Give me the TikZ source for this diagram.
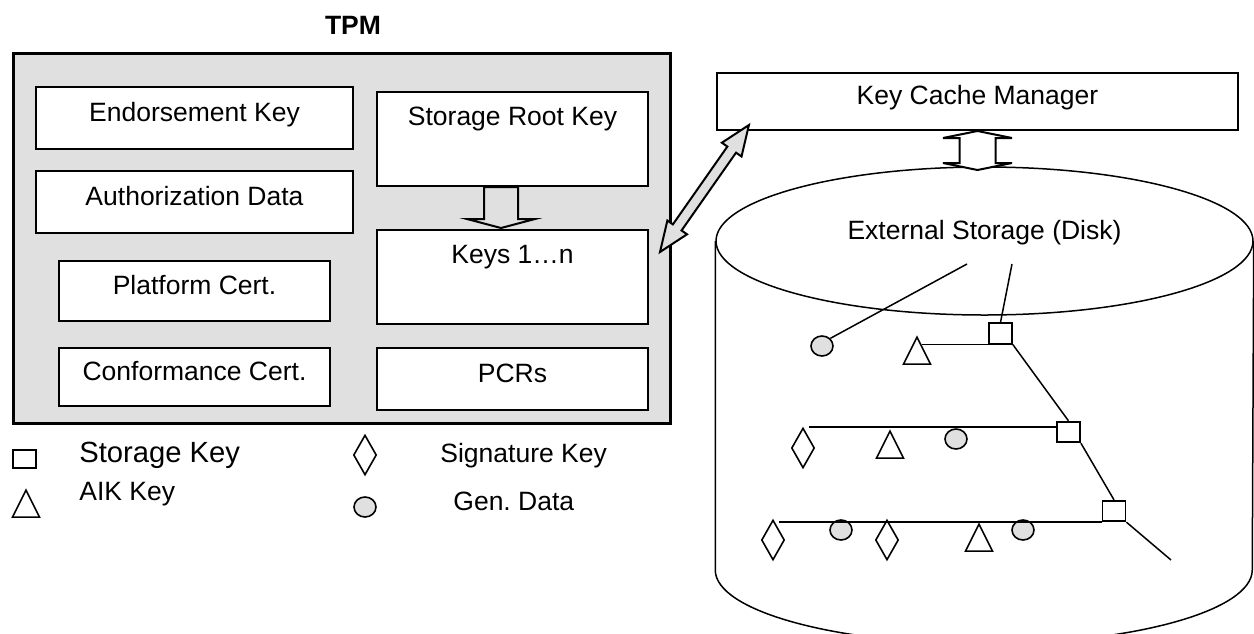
\documentclass[tikz,border=0pt]{standalone}
\usepackage{fontspec}
\setmainfont{Liberation Sans}
\usetikzlibrary{shapes.geometric,calc}
\definecolor{tpmgray}{RGB}{224,224,224}

\begin{document}
\begin{tikzpicture}[x=0.5pt, y=-0.5pt,
    txt/.style={inner sep=0pt, font=\fontsize{13.25pt}{16pt}\selectfont},
    keybox/.style={draw, line width=1pt, fill=white, txt,
                   text height=9.7pt, text depth=6.7pt},
    topbox/.style={keybox, text depth=23pt},
    sqkey/.style={draw, rectangle, line width=0.9pt, fill=white, inner sep=0pt,
                  minimum width=11.5pt, minimum height=10.25pt},
    aikkey/.style={draw, isosceles triangle, shape border rotate=90,
                   isosceles triangle stretches=true, line width=0.8pt, fill=white,
                   inner sep=0pt, minimum width=13.5pt, minimum height=13.5pt},
    sigkey/.style={draw, diamond, line width=0.8pt, fill=white, inner sep=0pt,
                   minimum width=11.5pt, minimum height=20pt},
    gendata/.style={draw, ellipse, line width=0.8pt, fill=tpmgray, inner sep=0pt,
                    minimum width=11pt, minimum height=10pt},
    branch/.style={line width=0.75pt},
    blockarrow/.style={draw, line width=1pt, line join=miter}]
  \useasboundingbox (0,0) rectangle (1254,633);
  \clip (0,0) rectangle (1254,633);

  % TPM chip
  \node[draw, line width=1.65pt, fill=tpmgray, minimum width=328.4pt,
        minimum height=184.85pt] (tpm) at (342,238.5) {};
  \node[txt, font=\bfseries\fontsize{13.25pt}{16pt}\selectfont, anchor=base]
        (tpmtitle) at (353,34) {TPM};

  \node[keybox, minimum width=158.5pt, minimum height=31pt] (ek) at (194.5,118) {Endorsement Key};
  \node[keybox, minimum width=158.5pt, minimum height=31pt] (ad) at (194.5,202) {Authorization Data};
  \node[keybox, minimum width=135.5pt, minimum height=30pt] (pc) at (194.5,291) {Platform Cert.};
  \node[keybox, minimum width=135.5pt, minimum height=29pt] (cc) at (194.5,377) {Conformance Cert.};
  \node[topbox, minimum width=135.5pt, minimum height=47pt] (srk) at (512.5,139) {Storage Root Key};
  \node[topbox, minimum width=135.5pt, minimum height=47pt] (keys) at (512.5,277) {Keys 1…n};
  \node[keybox, minimum width=135.5pt, minimum height=31pt] (pcrs) at (512.5,379) {PCRs};

  % SRK wraps the other keys
  \draw[blockarrow, fill=tpmgray] (srk.south) ++(-28.5,0) -- ++(0,32) -- ++(-17,0)
        -- ++(34,9) -- ++(34,-9) -- ++(-17,0) -- ++(0,-32) -- cycle;

  % Key cache manager and disk
  \node[keybox, minimum width=260.5pt, minimum height=28.5pt] (kcm) at (977.5,101.5) {Key Cache Manager};
  \node[draw, ellipse, line width=0.75pt, txt, text height=9.7pt, text depth=11.7pt,
        minimum width=268.5pt, minimum height=74pt] (disk) at (984.5,241) {External Storage (Disk)};
  \draw[line width=0.75pt] (disk.west) -- ++(0,329)
        arc[start angle=180, end angle=360, x radius=134.25pt, y radius=37pt] -- (disk.east);

  \draw[blockarrow, fill=white] (kcm.south) -- ++(34.5,7) -- ++(-16.5,0) -- ++(0,25)
        -- ++(16.5,0) -- ++(-34.5,7) -- ++(-34.5,-7) -- ++(16.5,0) -- ++(0,-25)
        -- ++(-16.5,0) -- cycle;

  % TPM <-> key cache manager
  \coordinate (linkA) at (660,252);
  \coordinate (linkB) at (749,125);
  \begin{scope}[shift={(linkA)}, rotate=55]
    \draw[blockarrow, fill=tpmgray] (0,0) -- (15pt,6pt) -- (15pt,2.65pt) -- (62.5pt,2.65pt)
          -- (62.5pt,6pt) -- (77.5pt,0pt) -- (62.5pt,-6pt) -- (62.5pt,-2.65pt)
          -- (15pt,-2.65pt) -- (15pt,-6pt) -- cycle;
  \end{scope}

  % Key hierarchy on the disk
  \node[gendata] (gd1) at (822,346) {};
  \node[aikkey, anchor=apex] (aik1) at (917,335) {};
  \node[sqkey] (sk1) at (1000.5,333.5) {};
  \node[sqkey] (sk2) at (1068.5,432) {};
  \node[sqkey] (sk3) at (1114,511) {};
  \node[sigkey] (sg1) at (803,448) {};
  \node[aikkey, anchor=apex] (aik2) at (890,429) {};
  \node[gendata] (gd2) at (956,439) {};
  \node[sigkey] (sg2) at (773,540) {};
  \node[gendata] (gd3) at (841,530) {};
  \node[sigkey] (sg3) at (887,540) {};
  \node[aikkey, anchor=apex] (aik3) at (979,522) {};
  \node[gendata] (gd4) at (1023,530) {};

  \coordinate (diskA) at (967,264);
  \coordinate (diskB) at (1012,264);
  \coordinate (treeend) at (1171,560);

  \draw[branch] (diskA) -- (gd1.north east);
  \draw[branch] (diskB) -- (sk1.north);
  \draw[branch] (sk1.south west) -- ($(aik1.apex |- sk1.south west)+(5,0)$);
  \draw[branch] (sk1.south east) -- (sk2.north);
  \draw[branch] (sg1.north east |- sg1.north) -- (sg1.north -| sk2.west);
  \draw[branch] (sk2.south east) -- (sk3.north);
  \draw[branch] (sk3.south west) -- (sk3.south west -| sg2.north east);
  \draw[branch] (sk3.south east) -- (treeend);

  % Legend
  \node[sqkey, minimum height=9pt] (lsk) at (24.5,459) {};
  \node[txt, font=\fontsize{14.6pt}{17pt}\selectfont, anchor=base west] (lsktxt) at (79,462.5) {Storage Key};
  \node[aikkey, anchor=apex] (laik) at (26,488) {};
  \node[txt, anchor=base west] (laiktxt) at (79,500) {AIK Key};
  \node[sigkey] (lsg) at (365,455) {};
  \node[txt, anchor=base west] (lsgtxt) at (440,462) {Signature Key};
  \node[gendata] (lgd) at (365,507) {};
  \node[txt, anchor=base west] (lgdtxt) at (453,510.5) {Gen.\ Data};
\end{tikzpicture}
\end{document}
